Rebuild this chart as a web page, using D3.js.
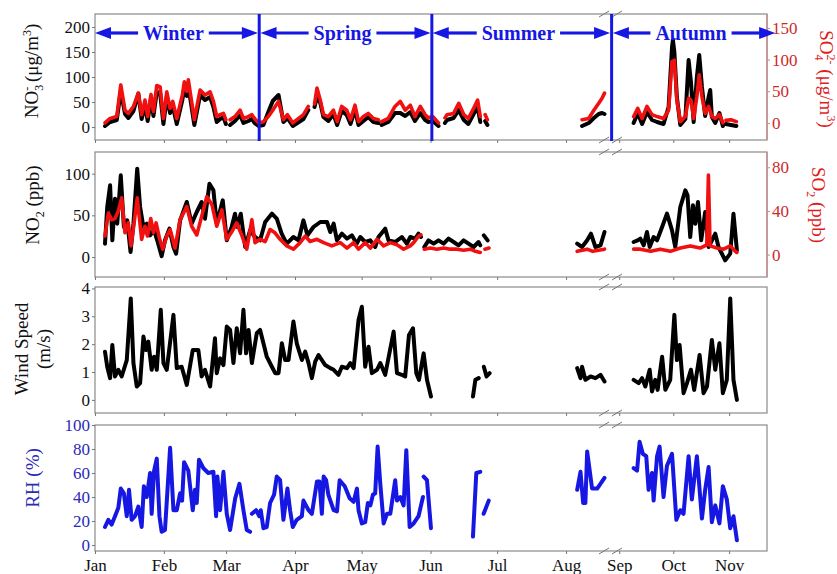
<!DOCTYPE html>
<html><head><meta charset="utf-8">
<script src="https://cdn.jsdelivr.net/npm/d3@7"></script>
<style>
body{margin:0;background:#fff}
svg{display:block}
text{font-family:"Liberation Serif","Times New Roman",serif}
</style></head><body>
<svg id="chart" width="837" height="574"></svg>
<script>
// Series as [day of year (Jan 1 = 0), value]; null marks a gap in the record.
const no3 = [[4.5,2],[6.8,10],[9.8,14],[11.6,72],[13.5,26],[15,18],[17.3,32],[19.5,67],[21,16],[22.5,44],[23.7,12],[25.2,58],[26.3,22],[27.8,70],[29.3,68],[30.8,6],[32.3,60],[33.8,28],[35,42],[36.8,6],[39.3,54],[40.2,78],[41.3,62],[42,82],[44.7,4],[47.3,64],[49.5,54],[51.8,60],[53.3,40],[54.8,10],[56.3,16],[57.8,20],[58.9,6],null,
  [60.8,4],[63,12],[65.3,24],[66.8,8],[69,12],[70.6,16],[71.8,8],[73.6,2],[75.8,4],[78,30],[80,52],[82.6,64],[84.8,10],[86.6,18],[89,2],[93.8,16],[96,34],null,
  [98.8,40],[99.9,61],[101.4,48],[102.8,20],[105,12],[107.3,26],[109,4],[111,32],[113.3,24],[115,6],[117,34],[118.6,4],[120.8,12],[123,20],[125.3,10],[127.5,8],null,
  [129,4],[132,10],[135,28],[137.4,28],[139.6,22],[141.9,30],[144,12],[146.4,28],[148.6,14],[150,10],[152,12],[154.6,2],null,
  [157.5,8],[158.4,14],[161.4,18],[163.7,34],[166,14],[168,6],[170.4,26],[172.2,40],[173.4,10],null,[175.6,12],[176.6,4],null,
  [219.2,2],[222.2,8],[224.5,18],[226.7,26],[228.2,28],[229.3,26],null,
  [251,8],[253.3,28],[255.7,6],[258.4,30],[261.2,14],[264,10],[267.6,6],[270.4,40],[272.3,160],[272.8,174],[273.6,150],[275,60],[276.9,4],[279.7,16],[281.5,134],[282.8,90],[284.3,10],[286.1,100],[287.4,144],[288.9,80],[290.7,22],[292.6,60],[293.5,74],[294.4,20],[296.3,8],[298.6,28],[300.5,2],null,
  [302.2,6],[305,4],[308,2]];

const so4 = [[4.5,0],[6.8,7],[9.8,10],[11.6,60],[13.5,20],[15,15],[17.3,26],[19.5,47],[21,13],[22.5,36],[23.7,10],[25.2,45],[26.3,18],[27.8,59],[29.3,57],[30.8,7],[32.3,49],[33.8,23],[35,34],[36.8,7],[39.3,44],[40.2,65],[41.3,50],[42,68],[44.7,5],[47.3,52],[49.5,44],[51.8,49],[53.3,34],[54.8,10],[56.3,13],[57.8,15],[58.9,5],null,
  [60.8,5],[63,10],[65.3,20],[66.8,7],[69,10],[70.6,13],[71.8,7],[73.6,0],[75.8,2],[78,10],[80,20],[82.6,34],[84.8,5],[86.6,13],[89,0],[93.8,13],[96,26],null,
  [98.8,30],[99.9,55],[101.4,36],[102.8,13],[105,10],[107.3,20],[109,2],[111,26],[113.3,20],[115,5],[117,28],[118.6,2],[120.8,10],[123,15],[125.3,7],[127.5,5],null,
  [129,2],[132,7],[135,26],[137.4,34],[139.6,20],[141.9,28],[144,10],[146.4,26],[148.6,13],[150,8],[152,10],[154.6,0],null,
  [157.5,8],[158.4,13],[161.4,15],[163.7,31],[166,13],[168,7],[170.4,23],[172.2,36],[173.4,10],null,[175.6,13],[176.6,5],null,
  [219.2,5],[222.2,7],[224.5,20],[226.7,31],[228.2,39],[229.3,47],null,
  [251,10],[253.3,23],[255.7,7],[258.4,26],[261.2,13],[264,10],[267.6,7],[270.4,20],[272.3,97],[273.6,99],[275,36],[276.9,2],[279.7,10],[281.5,39],[282.8,36],[284.3,7],[286.1,42],[287.4,76],[288.9,42],[290.7,15],[292.6,26],[294.4,10],[296.3,7],[298.6,13],[300.5,0],null,
  [302.2,4],[305,5],[308,2]];

const no2 = [[4.5,16],[5.5,60],[6.8,86],[7.8,20],[9,70],[10,40],[11.6,98],[13,36],[14.5,44],[16,6],[17.3,40],[19,106],[20.3,60],[21.8,36],[23.3,40],[24.8,26],[26.6,32],[28,20],[30,1],[31.5,20],[33.5,34],[35.3,12],[36.5,4],[38.3,44],[41.3,66],[43.5,40],[45.8,54],[48,66],[49.5,46],[51.5,88],[53.3,80],[54.8,40],[57.5,68],[59.3,20],[61.5,36],[63,52],[64,36],[65.6,52],[67.6,12],[69.8,32],[72,24],[74.3,20],[76.6,42],[79.6,52],[81.8,46],[84,28],[86.3,16],[89.3,24],[91.6,20],[93.8,44],[95.6,26],[98.3,36],[101.4,42],[104.4,42],[105.9,30],[107.4,40],[108.9,20],[111.1,28],[113.4,22],[115.6,26],[117.8,16],[119.4,24],[121.6,18],[123.9,20],[126.1,12],[127.6,24],[130.6,34],[132.1,20],[135.1,18],[138.1,24],[140.4,16],[141.9,24],[144.1,22],[145.6,28],[146.7,24],null,
  [148.2,12],[150.1,20],[152.4,16],[154.6,20],[156.9,16],[159.1,22],[161.4,18],[163.6,14],[165.9,20],[168.1,16],[170.4,12],[172.6,18],[173.4,14],null,[175,26],[176.7,20],null,
  [217,16],[219.2,12],[221.5,20],[223.2,28],[225.2,12],[227.5,14],[229.3,30],null,
  [251,18],[253.2,20],[254.7,22],[256.6,14],[258.4,30],[259.9,12],[262.1,24],[264,20],[266.8,36],[269.5,52],[272.3,32],[274.1,12],[276.9,60],[279.7,80],[280.9,74],[282.4,24],[283.9,62],[285.2,40],[286.7,66],[288.5,20],[290.7,54],[292.6,12],[296.3,28],[298.1,12],[301.8,-4],[304.6,4],[306.4,52],[308.3,8]];

const so2 = [[4.5,17],[6,38],[7.5,32],[9,33],[10.5,40],[12,52],[13.5,20],[15,29],[16.2,8],[17.6,29],[19,52],[21,14],[22.5,26],[23.6,17],[25.1,33],[26.3,20],[27.5,29],[29,15],[30.5,5],[32.3,17],[33.8,23],[36,6],[38.3,32],[41.3,44],[43.5,26],[45.8,18],[48,35],[50.3,53],[52.6,46],[54.8,26],[57.1,41],[59.3,14],[61.6,21],[63.8,29],[66.2,17],[68.3,5],[70.6,32],[72,11],[74.3,14],[76.6,12],[78.8,23],[81,20],[83.3,14],[86.3,8],[89.3,5],[92.3,11],[94.6,17],[96.8,12],[99.9,14],[102.9,11],[106.6,8],[110.4,11],[113.4,6],[116.4,11],[118.6,5],[121.6,11],[123.9,6],[126.9,14],[129.9,8],[132.9,11],[135.9,9],[138.9,5],[141.9,8],[143.4,11],[145.6,17],[146.7,18],null,
  [148.2,5],[150.9,6],[153.9,5],[156.9,6],[159.9,5],[162.9,5],[165.9,4],[168.9,5],[171.2,3],[173.4,2],null,[175.5,5],[177.3,6],null,
  [217,3],[221.5,5],[224,3],[229.3,5],null,
  [251,5],[254.7,5],[260.5,3],[265.8,5],[271.4,3],[276.9,6],[282.4,8],[287.9,6],[291.6,9],[292.5,73],[293.4,8],[297.2,6],[300.9,5],[304.6,8],[307.4,3],[308.3,2]];

const wind = [[4.5,1.73],[5.5,1.19],[6.8,0.78],[7.8,1.97],[9,0.84],[10.5,1.08],[12,0.84],[14.3,1.43],[16.1,3.64],[17.3,1.32],[18.8,0.48],[20.3,0.6],[21.8,2.27],[23,1.79],[24,2.09],[25.5,1.08],[26.6,1.55],[27.8,1.08],[29.6,3.23],[30.8,1.32],[32.3,1.08],[35.3,3.05],[36.8,1.14],[39,1.19],[41.3,0.54],[44,1.79],[46.5,1.79],[48,0.84],[49.5,1.08],[51.8,0.48],[54,2.21],[54.8,0.96],[56.3,1.49],[57.8,1.25],[59.3,2.63],[60.8,2.51],[62.3,1.32],[63.8,2.57],[65.3,1.67],[66.8,3.23],[68,1.67],[69.1,2.51],[70.6,1.32],[72.8,2.39],[74.3,2.51],[75.8,2.03],[77.3,1.55],[79.6,1.19],[81.1,0.96],[82.6,0.96],[84.1,2.03],[85.6,1.43],[87.1,1.43],[89.3,2.81],[90.8,2.03],[93.1,1.43],[94.6,1.73],[96.1,1.32],[97.6,0.78],[99.1,1.37],[100.6,1.61],[103.6,1.25],[105.9,1.14],[107.4,1.08],[109.6,0.9],[111.1,1.19],[113.4,1.14],[114.9,1.32],[116.4,1.14],[118.6,2.87],[120.1,3.34],[121.6,1.19],[123.1,1.91],[124.6,0.96],[126.9,1.08],[128.4,1.32],[130.6,0.9],[134.4,2.45],[135.9,0.96],[138.1,0.9],[139.6,0.84],[141.3,2.33],[143.1,2.57],[144.6,0.96],[145.8,0.72],[147.9,1.67],[149.4,0.72],[151.2,0.12],null,
  [170.1,0.12],[171.2,0.72],[172.7,0.78],null,[175,1.19],[176.2,0.84],[177.6,0.96],null,
  [217,1.14],[218.5,0.78],[219.2,1.19],[220.7,0.72],[223,0.84],[225.2,0.78],[227.5,0.9],[229.3,0.66],null,
  [251,0.72],[253.8,0.6],[255.7,0.78],[257.5,0.48],[259.9,1.08],[261.2,0.3],[263,0.72],[264.3,0.36],[266.8,1.55],[268.6,0.36],[271.3,0.72],[273.6,3.05],[275,1.43],[276.5,1.97],[278.7,0.24],[280.6,0.6],[282.8,1.08],[284.6,0.36],[287.6,1.61],[289.8,0.24],[291.7,0.48],[294.4,2.15],[296.3,1.08],[298.6,2.03],[300.5,0.24],[302.7,0.72],[304.6,3.64],[306.4,0.72],[308.3,0]];

const rh = [[4.5,15],[6,21],[7.5,17],[9,24],[10.5,31],[11.6,47],[13,43],[14.3,24],[15.3,46],[16.5,21],[18,24],[19.5,32],[21,15],[22,49],[23.3,40],[24.8,60],[25.5,26],[26.6,62],[27.8,72],[29,24],[30,11],[31.5,12.5],[33.8,81],[35.3,29],[36.8,29],[38.3,43],[39.2,37],[40.1,69],[42,62],[44,29],[45,46],[45.8,35],[46.8,71],[48.8,64],[51,60],[53.3,61],[54.5,24],[55.1,57],[56.3,29],[57.8,61],[59.3,26],[60.8,12.5],[63.1,39],[65,51],[66.8,29],[68.3,12.5],[69.8,11],null,
  [70.6,26],[72.5,29],[73.9,24],[74.6,29],[75.8,14],[77.3,15],[78.8,35],[80.6,42],[81.8,57],[83.3,54],[84.8,21],[86.6,47],[87.8,29],[89,15],[90.8,21],[93.1,24],[93.8,37],[96.1,29],[97.6,26],[99.9,53],[101,53],[102.1,26],[102.9,57],[104,54],[105,42],[107.4,29],[108.9,28],[110.1,54],[112.4,49],[114.6,39],[116.4,36],[117.9,47],[118.6,29],[120.1,18],[121.6,19],[122.8,35],[123.9,33],[125.1,42],[126.1,43],[127.2,82],[128.4,51],[129.9,18],[131.4,26],[132.9,26],[135.1,54],[135.9,37],[137.4,40],[138.9,33],[140.1,79],[141.6,15],[143.4,18],[145.6,24],[147.6,40],null,
  [147.9,57],[149.4,54],[151.2,14],null,
  [170.1,7],[171.6,60],[173.4,61],null,[174.9,26],[177.2,37],null,
  [217,46],[218.5,61],[219.7,35],[220.7,35],[221.5,78],[223.7,47],[226,47],[229.3,56],null,
  [251,64],[252.9,62],[254.3,86],[256.1,76],[258,74],[259.3,46],[261.2,60],[262.1,37],[264,74],[265.4,82],[267.6,40],[269.5,66],[272.3,76],[274.7,21],[276.9,29],[278.7,26],[281.5,74],[283.3,38],[286.1,74],[288.9,22],[290.7,46],[292.6,65],[294.4,19],[296.3,33],[298.6,18],[300.5,49],[302.7,38],[304.6,14],[306.4,24],[308.3,4]];

// Month ticks (day of year of the 1st) and season labels with their spans in days
const monthNames = ["Jan","Feb","Mar","Apr","May","Jun","Jul","Aug","Sep","Oct","Nov"];
const monthStarts = [0,31,59,90,120,151,181,212,243,273,304];
const seasonNames = ["Winter","Spring","Summer","Autumn"];
const seasonSpans = [[0,73.3],[74.5,151],[152,231.8],[239.5,329.5]];
const seasonDividers = [73.9,151.6,232.5];

const no3Ticks = [0,50,100,150,200];
const so4Ticks = [0,50,100,150];
const no2Ticks = [0,50,100];
const so2Ticks = [0,40,80];
const windTicks = [0,1,2,3,4];
const rhTicks = [0,20,40,60,80,100];

const svg = d3.select("#chart");
const L = 95, R = 767;
const BLUE = "#1717e3", RED = "#f01010", AXRED = "#cc2a2a";
const SERIF = "Liberation Serif, Times New Roman, serif";

const t0 = Date.UTC(2015,0,1);
const toDate = d => new Date(t0 + d*864e5);
// Broken time axis: Jan–Aug 21 on the left part, Aug 28–Nov 22 on the right part
const x1 = d3.scaleUtc().domain([toDate(0), toDate(232)]).range([L, 610.5]);
const x2 = d3.scaleUtc().domain([toDate(239), toDate(325)]).range([612, R]);
const xPos = d => d <= 235 ? x1(toDate(d)) : x2(toDate(d));

const panels = [
  {top:14, bottom:140},
  {top:152, bottom:277},
  {top:287, bottom:413},
  {top:425, bottom:551}
];

const yNo3 = d3.scaleLinear().domain([-26,226]).range([140,14]);
const ySo4 = d3.scaleLinear().domain([-27,172]).range([140,14]);
const yNo2 = d3.scaleLinear().domain([-24,126]).range([277,152]);
const ySo2 = d3.scaleLinear().domain([-20.5,94]).range([277,152]);
const yWind = d3.scaleLinear().domain([-0.47,4.05]).range([413,287]);
const yRh = d3.scaleLinear().domain([-5,100]).range([551,425]);

// Panel frames and bottom month ticks
panels.forEach((p, i) => {
  svg.append("rect").attr("x", L).attr("y", p.top).attr("width", R-L).attr("height", p.bottom-p.top)
    .attr("fill", "none").attr("stroke", "#8a8a8a").attr("stroke-width", 1.2);
  const last = i === panels.length - 1;
  const fmt = (v) => last ? monthNames[monthStarts.findIndex(m => +toDate(m) === +v)] : "";
  const a1 = d3.axisBottom(x1).tickValues(monthStarts.filter(m => m < 240).map(toDate)).tickSize(3).tickPadding(5).tickFormat(fmt);
  const a2 = d3.axisBottom(x2).tickValues(monthStarts.filter(m => m > 240).map(toDate)).tickSize(3).tickPadding(5).tickFormat(fmt);
  [a1, a2].forEach(a => {
    const g = svg.append("g").attr("transform", `translate(0,${p.bottom})`).call(a);
    g.select(".domain").remove();
    g.selectAll("line").attr("stroke", "#777");
    g.selectAll("text").attr("font-size", 17).attr("fill", "#111").attr("font-family", SERIF);
  });
});

function leftAxis(scale, ticks, color) {
  const g = svg.append("g").attr("transform", `translate(${L},0)`)
    .call(d3.axisLeft(scale).tickValues(ticks).tickFormat(d3.format("d")).tickSize(3).tickPadding(2));
  g.select(".domain").remove();
  g.selectAll("line").attr("stroke", "#777");
  g.selectAll("text").attr("font-size", 17).attr("fill", color).attr("font-family", SERIF);
}
function rightAxis(scale, ticks, top, bottom) {
  svg.append("line").attr("x1", R).attr("x2", R).attr("y1", top).attr("y2", bottom)
    .attr("stroke", "#c98c8c").attr("stroke-width", 1.4);
  const g = svg.append("g").attr("transform", `translate(${R},0)`)
    .call(d3.axisRight(scale).tickValues(ticks).tickFormat(d3.format("d")).tickSize(3).tickPadding(2));
  g.select(".domain").remove();
  g.selectAll("line").attr("stroke", "#c98c8c");
  g.selectAll("text").attr("font-size", 17).attr("fill", AXRED).attr("font-family", SERIF);
}
leftAxis(yNo3, no3Ticks, "#111");
rightAxis(ySo4, so4Ticks, 14, 140);
leftAxis(yNo2, no2Ticks, "#111");
rightAxis(ySo2, so2Ticks, 152, 277);
leftAxis(yWind, windTicks, "#111");
leftAxis(yRh, rhTicks, "#2a2ab8");

// Axis-break marks on every panel border
panels.forEach(p => {
  [p.top, p.bottom].forEach(y => {
    [604, 617].forEach(cx => {
      svg.append("line").attr("x1", cx-5).attr("y1", y+3).attr("x2", cx+5).attr("y2", y-3)
        .attr("stroke", "#777").attr("stroke-width", 1);
    });
  });
});

// Data lines
function drawLine(data, y, color, w) {
  const line = d3.line().defined(d => d !== null).x(d => xPos(d[0])).y(d => y(d[1])).curve(d3.curveLinear);
  svg.append("path").datum(data).attr("d", line).attr("fill", "none")
    .attr("stroke", color).attr("stroke-width", w).attr("stroke-linejoin", "round").attr("stroke-linecap", "round");
}
drawLine(no3, yNo3, "#000", 4);
drawLine(so4, ySo4, RED, 3.6);
drawLine(no2, yNo2, "#000", 4);
drawLine(so2, ySo2, RED, 3.6);
drawLine(wind, yWind, "#000", 4);
drawLine(rh, yRh, BLUE, 4);

// Season dividers and labelled double arrows
seasonDividers.forEach(d => {
  const x = xPos(d);
  svg.append("line").attr("x1", x).attr("x2", x).attr("y1", 14).attr("y2", 141)
    .attr("stroke", BLUE).attr("stroke-width", 3);
});
const ay = 33;
seasonNames.forEach((name, i) => {
  const xa = xPos(seasonSpans[i][0]), xb = xPos(seasonSpans[i][1]);
  const cx = (xa + xb) / 2 - 3;
  const t = svg.append("text").attr("x", cx).attr("y", ay + 7).attr("text-anchor", "middle")
    .attr("font-size", 20).attr("font-weight", "bold").attr("fill", BLUE).text(name);
  const w = t.node().getComputedTextLength();
  const head = 16, hh = 6, gap = 5;
  svg.append("line").attr("x1", xa + head - 1).attr("x2", cx - w/2 - gap).attr("y1", ay).attr("y2", ay)
    .attr("stroke", BLUE).attr("stroke-width", 3.2);
  svg.append("line").attr("x1", cx + w/2 + gap).attr("x2", xb - head + 1).attr("y1", ay).attr("y2", ay)
    .attr("stroke", BLUE).attr("stroke-width", 3.2);
  svg.append("path").attr("d", `M${xa},${ay}L${xa+head},${ay-hh}L${xa+head},${ay+hh}Z`).attr("fill", BLUE);
  svg.append("path").attr("d", `M${xb},${ay}L${xb-head},${ay-hh}L${xb-head},${ay+hh}Z`).attr("fill", BLUE);
});

// Axis titles
function title(x, y, rot, color, parts, size) {
  const t = svg.append("text").attr("transform", `translate(${x},${y}) rotate(${rot})`)
    .attr("text-anchor", "middle").attr("font-size", size).attr("fill", color);
  parts.forEach(p => {
    const s = t.append("tspan").text(p.t);
    if (p.dy) s.attr("dy", p.dy);
    if (p.dx) s.attr("dx", p.dx);
    if (p.fs) s.attr("font-size", p.fs);
  });
}
title(38, 71, -90, "#111", [
  {t:"NO"}, {t:"3", dy:5, fs:12}, {t:"-", dx:-6, dy:-12, fs:12}, {t:" (\u03bcg/m", dy:7}, {t:"3", dy:-7, fs:12}, {t:")", dy:7}
], 19);
title(820, 79, 90, "#e01e1e", [
  {t:"SO"}, {t:"4", dy:5, fs:12}, {t:"2-", dx:-6, dy:-12, fs:12}, {t:" (\u03bcg/m", dy:7}, {t:"3", dy:-7, fs:12}, {t:")", dy:7}
], 19);
title(39, 205, -90, "#111", [{t:"NO"}, {t:"2", dy:5, fs:12}, {t:" (ppb)", dy:-5}], 19);
title(812, 205, 90, "#e01e1e", [{t:"SO"}, {t:"2", dy:5, fs:12}, {t:" (ppb)", dy:-5}], 19);
title(28, 349, -90, "#111", [{t:"Wind Speed"}], 19);
title(50, 349, -90, "#111", [{t:"(m/s)"}], 19);
title(39, 478, -90, "#2a2ab8", [{t:"RH (%)"}], 19);
</script></body></html>
